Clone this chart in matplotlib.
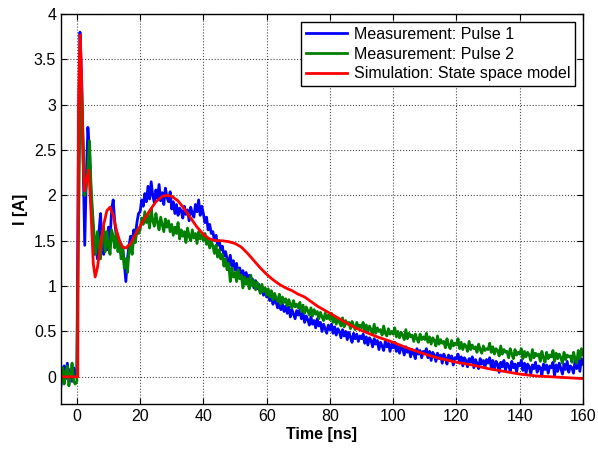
import numpy as np
import matplotlib
matplotlib.use('Agg')
import matplotlib.pyplot as plt

plt.rcParams['font.family'] = ['Liberation Sans', 'DejaVu Sans']

# time axes for the measured pulses (0.5 ns samples)
t_early = np.arange(-5, 20, 0.5)
t_late = np.arange(20, 160.5, 0.5)

pulse1_early = [-0.1, 0.05, 0.12, -0.02, 0.15, 0.0, 0.08, -0.05, 0.1, 0.02,
                0.0, 2.5, 3.8, 3.3, 2.4, 1.45, 2.2, 2.75, 2.5, 2.0,
                1.7, 1.35, 1.5, 1.3, 1.6, 1.8, 1.45, 1.35, 1.55, 1.4,
                1.65, 1.5, 1.85, 1.95, 1.7, 1.55, 1.45, 1.4, 1.35, 1.42,
                1.25, 1.05, 1.3, 1.45, 1.55, 1.48, 1.62, 1.55, 1.7, 1.8]
pulse1_late = [
    1.82, 1.95, 1.88, 2.02, 1.93, 2.1, 1.96, 2.15, 2.0, 1.92, 2.06, 1.97, 2.12, 1.94, 2.03, 1.9, 2.08, 1.98, 1.93, 2.04,
    1.85, 1.93, 1.8, 1.9, 1.78, 1.86, 1.83, 1.75, 1.88, 1.79, 1.84, 1.72, 1.87, 1.8, 1.76, 1.9, 1.82, 1.95, 1.78, 1.88,
    1.8, 1.7, 1.76, 1.62, 1.68, 1.58, 1.6, 1.5, 1.56, 1.45, 1.5, 1.4, 1.44, 1.33, 1.38, 1.3, 1.25, 1.34, 1.22, 1.28,
    1.18, 1.25, 1.12, 1.2, 1.1, 1.17, 1.08, 1.15, 1.05, 1.12, 1.02, 1.08, 0.98, 1.06, 0.97, 1.02, 0.93, 1.0, 0.9, 0.96,
    0.88, 0.94, 0.84, 0.9, 0.8, 0.87, 0.82, 0.76, 0.85, 0.74, 0.8, 0.72, 0.78, 0.7, 0.77, 0.66, 0.74, 0.69, 0.64, 0.73,
    0.68, 0.74, 0.64, 0.7, 0.6, 0.67, 0.63, 0.57, 0.66, 0.58, 0.62, 0.54, 0.64, 0.56, 0.6, 0.5, 0.58, 0.53, 0.48, 0.57,
    0.52, 0.58, 0.48, 0.55, 0.46, 0.53, 0.5, 0.43, 0.52, 0.45, 0.5, 0.41, 0.49, 0.44, 0.38, 0.48, 0.42, 0.47, 0.39, 0.45,
    0.42, 0.47, 0.37, 0.44, 0.35, 0.43, 0.4, 0.33, 0.42, 0.36, 0.4, 0.3, 0.38, 0.34, 0.29, 0.39, 0.33, 0.37, 0.28, 0.36,
    0.32, 0.38, 0.28, 0.35, 0.26, 0.34, 0.31, 0.24, 0.33, 0.27, 0.31, 0.22, 0.3, 0.26, 0.2, 0.31, 0.25, 0.29, 0.21, 0.28,
    0.26, 0.31, 0.21, 0.28, 0.18, 0.27, 0.24, 0.17, 0.26, 0.2, 0.24, 0.15, 0.25, 0.21, 0.14, 0.24, 0.19, 0.23, 0.13, 0.21,
    0.2, 0.25, 0.15, 0.22, 0.12, 0.21, 0.18, 0.11, 0.2, 0.16, 0.22, 0.1, 0.19, 0.15, 0.09, 0.2, 0.14, 0.18, 0.1, 0.19,
    0.15, 0.21, 0.1, 0.18, 0.08, 0.17, 0.14, 0.05, 0.16, 0.11, 0.18, 0.07, 0.15, 0.12, 0.06, 0.17, 0.1, 0.14, 0.05, 0.15,
    0.12, 0.18, 0.07, 0.15, 0.04, 0.14, 0.11, 0.03, 0.13, 0.09, 0.16, 0.05, 0.12, 0.1, 0.02, 0.14, 0.08, 0.13, 0.04, 0.12,
    0.1, 0.16, 0.01, 0.13, 0.06, 0.15, 0.09, 0.03, 0.14, 0.08, 0.17, 0.05, 0.12, 0.1, 0.04, 0.18, 0.09, 0.22, 0.06, 0.2,
    0.14]

pulse2_early = [-0.05, 0.1, -0.08, 0.05, 0.12, -0.1, 0.02, 0.15, -0.05, -0.08,
                -0.05, 1.5, 2.9, 3.2, 2.6, 2.0, 2.1, 2.3, 2.6, 2.1,
                1.8, 1.55, 1.35, 1.6, 1.45, 1.3, 1.55, 1.65, 1.38, 1.6,
                1.45, 1.35, 1.62, 1.55, 1.42, 1.6, 1.38, 1.5, 1.3, 1.42,
                1.2, 1.3, 1.15, 1.38, 1.45, 1.35, 1.55, 1.48, 1.62, 1.58]
pulse2_late = [
    1.62, 1.75, 1.68, 1.82, 1.7, 1.78, 1.64, 1.85, 1.72, 1.66, 1.8, 1.7, 1.62, 1.76, 1.68, 1.6, 1.74, 1.65, 1.72, 1.6,
    1.68, 1.56, 1.65, 1.58, 1.7, 1.52, 1.62, 1.55, 1.6, 1.48, 1.64, 1.55, 1.5, 1.62, 1.53, 1.58, 1.47, 1.6, 1.52, 1.57,
    1.5, 1.58, 1.46, 1.52, 1.42, 1.5, 1.44, 1.36, 1.45, 1.32, 1.4, 1.3, 1.35, 1.22, 1.3, 1.18, 1.25, 1.05, 1.2, 1.1,
    1.15, 1.05, 1.18, 1.08, 1.12, 0.98, 1.1, 1.02, 1.08, 0.97, 1.12, 1.0, 1.06, 0.96, 1.04, 0.99, 0.92, 1.02, 0.94, 0.98,
    0.9, 0.97, 0.88, 0.95, 0.85, 0.92, 0.87, 0.83, 0.91, 0.8, 0.88, 0.82, 0.86, 0.78, 0.85, 0.8, 0.76, 0.84, 0.77, 0.8,
    0.76, 0.82, 0.72, 0.79, 0.7, 0.77, 0.73, 0.68, 0.76, 0.67, 0.74, 0.69, 0.72, 0.64, 0.71, 0.66, 0.62, 0.7, 0.64, 0.68,
    0.63, 0.7, 0.6, 0.66, 0.58, 0.64, 0.6, 0.56, 0.65, 0.55, 0.62, 0.58, 0.6, 0.53, 0.61, 0.56, 0.52, 0.6, 0.54, 0.57,
    0.54, 0.6, 0.5, 0.57, 0.49, 0.56, 0.52, 0.47, 0.58, 0.48, 0.54, 0.5, 0.52, 0.46, 0.56, 0.48, 0.45, 0.53, 0.47, 0.5,
    0.47, 0.54, 0.44, 0.5, 0.43, 0.49, 0.46, 0.41, 0.52, 0.42, 0.48, 0.44, 0.46, 0.39, 0.47, 0.42, 0.38, 0.47, 0.41, 0.44,
    0.41, 0.48, 0.38, 0.44, 0.36, 0.43, 0.4, 0.34, 0.45, 0.36, 0.41, 0.37, 0.39, 0.32, 0.42, 0.35, 0.31, 0.4, 0.34, 0.37,
    0.35, 0.42, 0.31, 0.38, 0.3, 0.36, 0.34, 0.28, 0.39, 0.3, 0.35, 0.31, 0.33, 0.27, 0.36, 0.3, 0.26, 0.34, 0.29, 0.31,
    0.3, 0.37, 0.27, 0.33, 0.25, 0.31, 0.29, 0.23, 0.34, 0.25, 0.3, 0.27, 0.28, 0.21, 0.31, 0.25, 0.2, 0.3, 0.24, 0.27,
    0.25, 0.31, 0.2, 0.28, 0.22, 0.27, 0.24, 0.18, 0.3, 0.21, 0.26, 0.23, 0.25, 0.17, 0.28, 0.21, 0.16, 0.27, 0.2, 0.24,
    0.22, 0.29, 0.17, 0.26, 0.2, 0.25, 0.21, 0.15, 0.27, 0.19, 0.24, 0.22, 0.23, 0.16, 0.27, 0.2, 0.15, 0.29, 0.2, 0.31,
    0.24]

# state space model
t_sim = [-5, 0.3, 0.5, 0.8, 1.1, 1.5, 2.0, 2.4, 3.0, 3.8, 4.5, 5.2, 5.8, 6.5,
         7.5, 8.5, 9.5, 10.5, 11.5, 12.5, 13.5, 14.5, 15.5, 17, 19, 21, 23,
         25, 27, 28.5, 30, 32, 34, 36, 38, 40, 42, 44, 46, 48, 50, 52, 54,
         56, 58, 60, 62, 64, 66, 68, 70, 72, 74, 76, 78, 80, 82, 84, 86, 88,
         90, 95, 100, 105, 110, 115, 120, 125, 130, 135, 140, 145, 150, 155, 160]
i_sim = [0, 0, 2.95, 3.5, 3.77, 3.3, 2.4, 2.05, 2.15, 2.28, 1.8, 1.25, 1.10, 1.2,
         1.45, 1.68, 1.83, 1.87, 1.78, 1.62, 1.5, 1.43, 1.42, 1.47, 1.6, 1.72, 1.83,
         1.93, 1.99, 2.0, 1.99, 1.94, 1.85, 1.75, 1.65, 1.57, 1.52, 1.5, 1.5, 1.49,
         1.47, 1.43, 1.36, 1.28, 1.2, 1.13, 1.07, 1.02, 0.98, 0.95, 0.91, 0.88,
         0.83, 0.78, 0.74, 0.70, 0.66, 0.62, 0.58, 0.54, 0.51, 0.44, 0.38, 0.31,
         0.25, 0.2, 0.16, 0.13, 0.09, 0.06, 0.03, 0.01, 0.0, -0.01, -0.02]

t1 = np.concatenate([t_early, t_late])
p1 = np.concatenate([pulse1_early, pulse1_late])
p2 = np.concatenate([pulse2_early, pulse2_late])

fig = plt.figure(figsize=(5.98, 4.5), dpi=100)
ax = fig.add_axes([61/598, 1 - 404/450, 522/598, 390/450])

ax.plot(t1, p1, color='#0000ff', lw=2, label='Measurement: Pulse 1')
ax.plot(t1, p2, color='#008000', lw=2, label='Measurement: Pulse 2')
ax.plot(t_sim, i_sim, color='#ff0000', lw=2, label='Simulation: State space model')

ax.set_xlim(-5, 160)
ax.set_ylim(-0.3, 4)
ax.set_xticks(np.arange(0, 161, 20))
ax.set_yticks([0, 0.5, 1, 1.5, 2, 2.5, 3, 3.5, 4])
ax.set_yticklabels(['0', '0.5', '1', '1.5', '2', '2.5', '3', '3.5', '4'])
ax.tick_params(direction='in', top=True, right=True, length=4, labelsize=11.5)
ax.grid(True, linestyle=':', color='0.3', linewidth=0.8)
for s in ax.spines.values():
    s.set_linewidth(1.0)

ax.set_xlabel('Time [ns]', fontsize=11.5, fontweight='bold', labelpad=2)
ax.set_ylabel('I [A]', fontsize=11.5, fontweight='bold', labelpad=4)

leg = ax.legend(loc='upper right', fontsize=11.5, fancybox=False, edgecolor='black',
                framealpha=1, handlelength=2.6, labelspacing=0.3, borderaxespad=0.5,
                handletextpad=0.4, borderpad=0.3)
leg.get_frame().set_linewidth(1.0)

fig.savefig('out.png', dpi=100)
